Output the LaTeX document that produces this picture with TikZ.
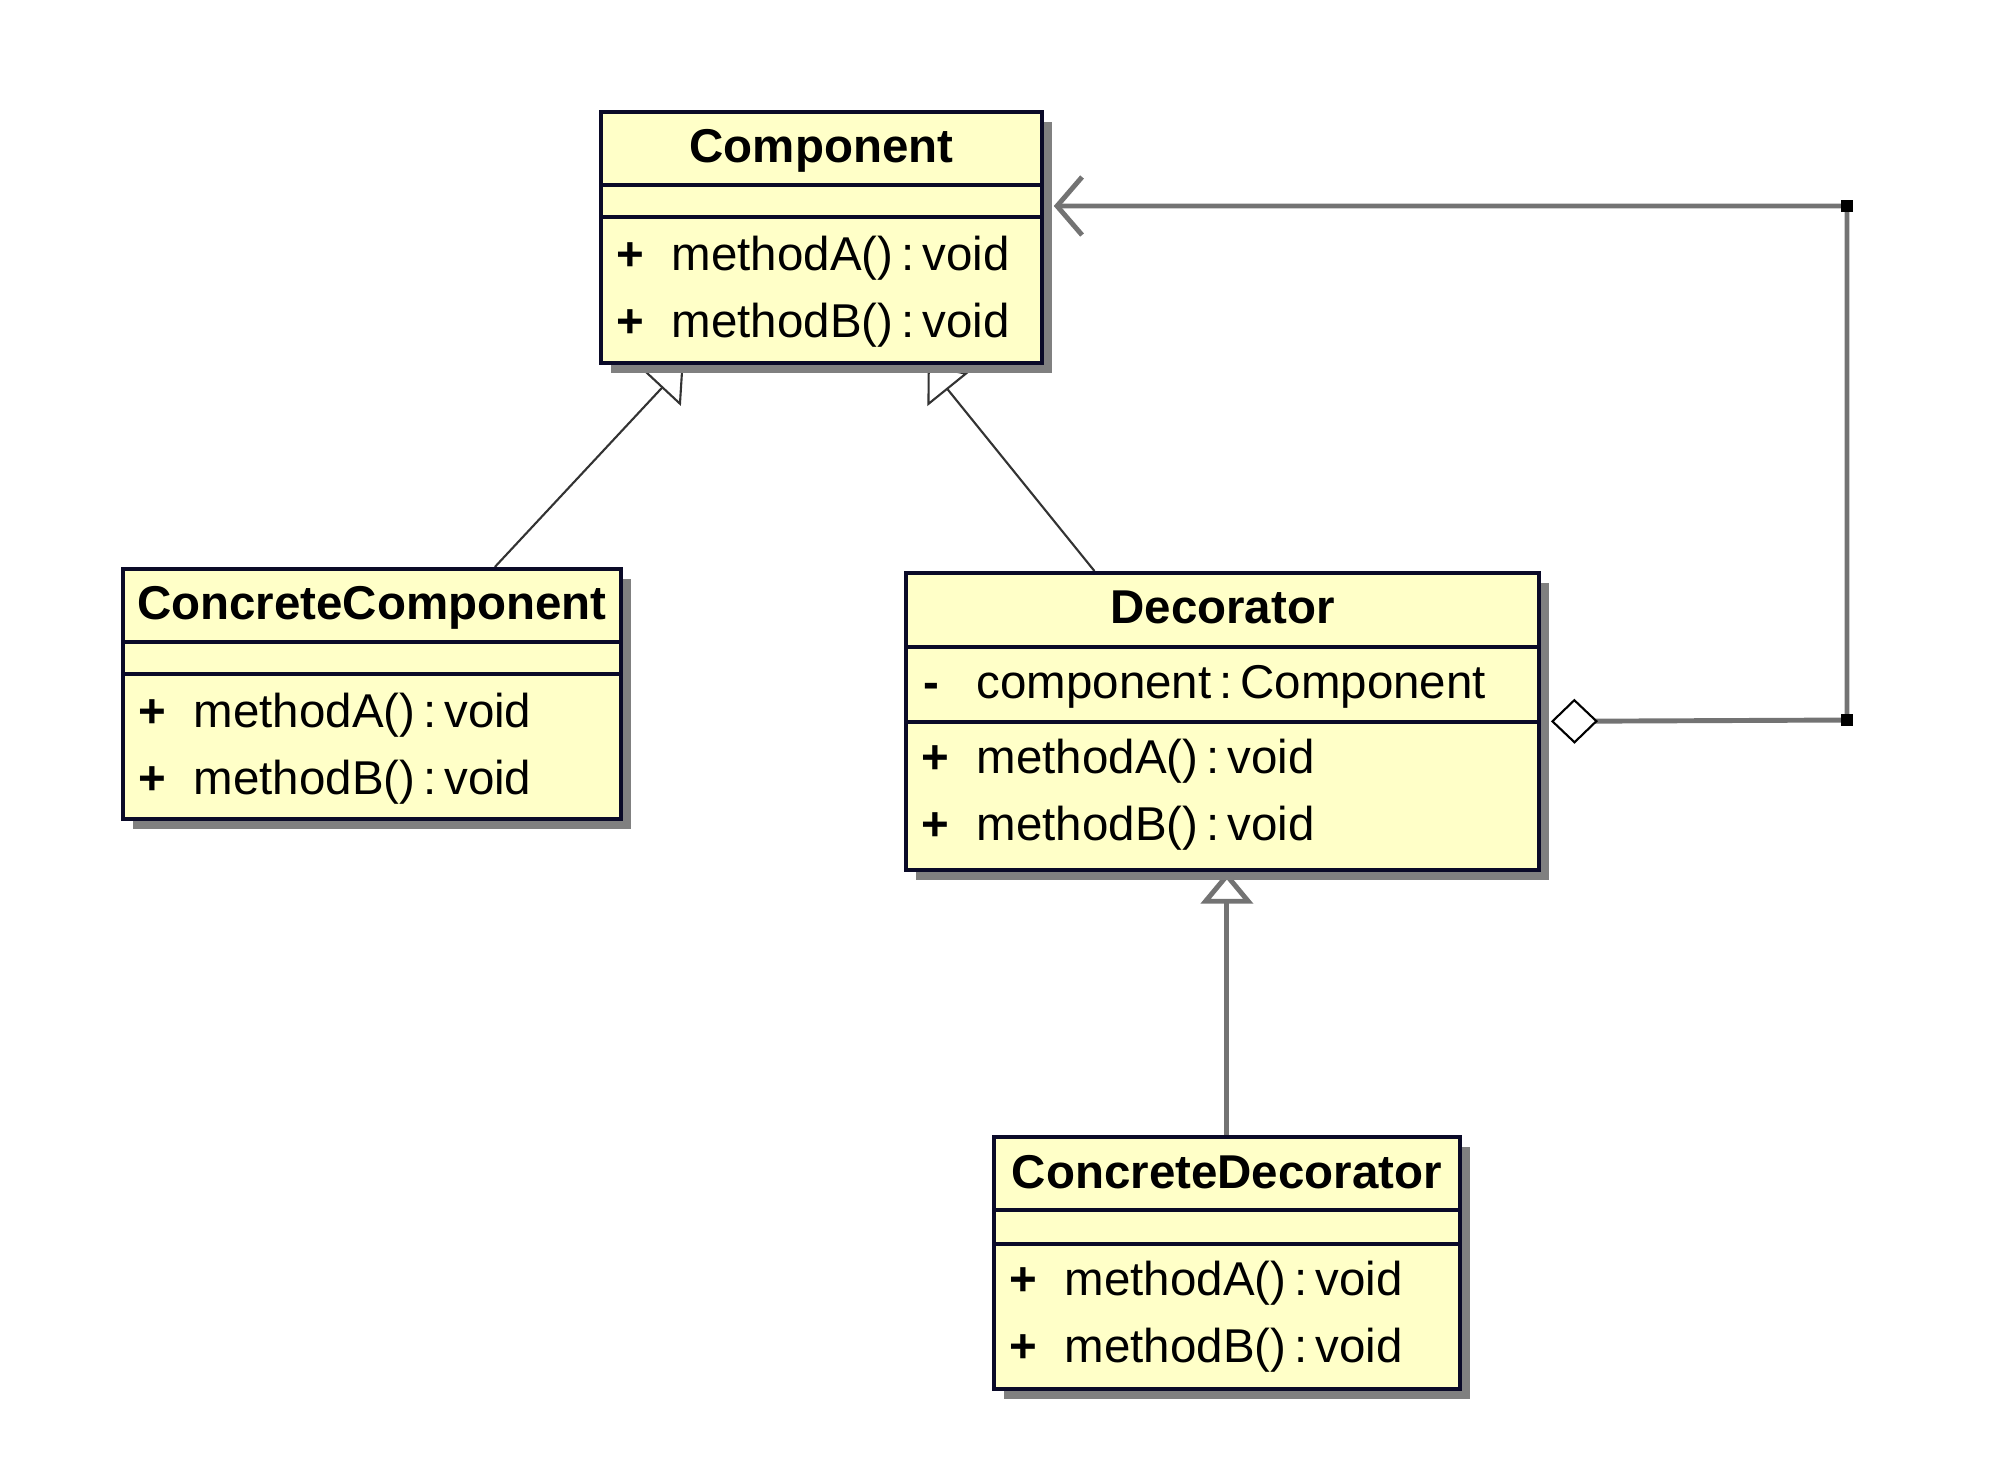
\documentclass[tikz,border=0pt]{standalone}
\usepackage{fontspec}
\setmainfont{Liberation Sans}
\usetikzlibrary{arrows.meta,calc,shadows}
\definecolor{classfill}{RGB}{255,255,200}
\definecolor{classline}{RGB}{10,10,40}
\pgfdeclarelayer{back}
\pgfsetlayers{back,main}
\begin{document}
\begin{tikzpicture}[x=0.01cm,y=-0.01cm,
  every node/.style={font=\fontsize{13.5}{16}\selectfont},
  classbox/.style={draw=classline,line width=1pt,fill=classfill,anchor=north west,inner sep=0pt,
    drop shadow={shadow xshift=0.1cm,shadow yshift=-0.1cm,fill=black!50,opacity=1}},
  classname/.style={anchor=base,font=\fontsize{13.5}{16}\selectfont\bfseries},
  member/.style={anchor=base west,inner sep=0pt},
  divider/.style={classline,line width=1pt},
  inherit/.style={-{Triangle[open,length=0.32cm,width=0.52cm]}},
  thin link/.style={black!80,line width=0.6pt},
  link/.style={black!55,line width=1.4pt}]
  \useasboundingbox (0,0) rectangle (2000,1475);
  % component:
  \node[classbox,minimum width=4.41cm,minimum height=2.51cm] (comp) at (599,110) {};
  \draw[divider] ($(comp.north west)+(0,75)$) -- ($(comp.north east)+(0,75)$);
  \draw[divider] ($(comp.north west)+(0,107)$) -- ($(comp.north east)+(0,107)$);
  \node[classname] (compname) at ($(comp.north)+(0,52)$) {Component};
  \node[member] (compvisa) at ($(comp.north west)+(17,160)$) {\textbf{+}};
  \node[member] (compopa) at ($(comp.north west)+(72,160)$) {methodA()\,:\,void};
  \node[member] (compvisb) at ($(comp.north west)+(17,227)$) {\textbf{+}};
  \node[member] (compopb) at ($(comp.north west)+(72,227)$) {methodB()\,:\,void};
  % concrete component:
  \node[classbox,minimum width=4.98cm,minimum height=2.50cm] (conc) at (121,567) {};
  \draw[divider] ($(conc.north west)+(0,75)$) -- ($(conc.north east)+(0,75)$);
  \draw[divider] ($(conc.north west)+(0,107)$) -- ($(conc.north east)+(0,107)$);
  \node[classname] (concname) at ($(conc.north)+(0,52)$) {ConcreteComponent};
  \node[member] (concvisa) at ($(conc.north west)+(17,160)$) {\textbf{+}};
  \node[member] (concopa) at ($(conc.north west)+(72,160)$) {methodA()\,:\,void};
  \node[member] (concvisb) at ($(conc.north west)+(17,227)$) {\textbf{+}};
  \node[member] (concopb) at ($(conc.north west)+(72,227)$) {methodB()\,:\,void};
  % decorator, with its one attribute:
  \node[classbox,minimum width=6.33cm,minimum height=2.97cm] (deco) at (904,571) {};
  \draw[divider] ($(deco.north west)+(0,76)$) -- ($(deco.north east)+(0,76)$);
  \draw[divider] ($(deco.north west)+(0,151)$) -- ($(deco.north east)+(0,151)$);
  \node[classname] (deconame) at ($(deco.north)+(0,52)$) {Decorator};
  \node[member] (decovisc) at ($(deco.north west)+(19,127)$) {\textbf{-}};
  \node[member] (decoattr) at ($(deco.north west)+(72,127)$) {component\,:\,Component};
  \node[member] (decovisa) at ($(deco.north west)+(17,202)$) {\textbf{+}};
  \node[member] (decoopa) at ($(deco.north west)+(72,202)$) {methodA()\,:\,void};
  \node[member] (decovisb) at ($(deco.north west)+(17,269)$) {\textbf{+}};
  \node[member] (decoopb) at ($(deco.north west)+(72,269)$) {methodB()\,:\,void};
  % concrete decorator:
  \node[classbox,minimum width=4.66cm,minimum height=2.52cm] (cdeco) at (992,1135) {};
  \draw[divider] ($(cdeco.north west)+(0,75)$) -- ($(cdeco.north east)+(0,75)$);
  \draw[divider] ($(cdeco.north west)+(0,109)$) -- ($(cdeco.north east)+(0,109)$);
  \node[classname] (cdeconame) at ($(cdeco.north)+(0,53)$) {ConcreteDecorator};
  \node[member] (cdecovisa) at ($(cdeco.north west)+(17,160)$) {\textbf{+}};
  \node[member] (cdecoopa) at ($(cdeco.north west)+(72,160)$) {methodA()\,:\,void};
  \node[member] (cdecovisb) at ($(cdeco.north west)+(17,227)$) {\textbf{+}};
  \node[member] (cdecoopb) at ($(cdeco.north west)+(72,227)$) {methodB()\,:\,void};
  % ends of the aggregation:
  \coordinate (aggstart) at ([xshift=0.1cm]deco.east);
  \coordinate (compside) at ([xshift=0.1cm]comp.east);
  \coordinate (bendlow) at (1847,720);
  \coordinate (bendup) at (1847,206);
  \begin{pgfonlayer}{back}
    % generalizations:
    \draw[thin link,inherit] ($(conc.north west)!0.745!(conc.north east)$) -- ($(comp.south west)!0.19!(comp.south east)$);
    \draw[thin link,inherit] ($(deco.north west)!0.299!(deco.north east)$) -- ($(comp.south west)!0.739!(comp.south east)$);
    \draw[link,inherit] (cdeco.north) -- (cdeco.north |- deco.south);
    % aggregation back to component:
    \draw[link,{Diamond[fill=white,color=black,line width=0.6pt,length=0.47cm,width=0.45cm]}-{Straight Barb[length=0.25cm,width=0.58cm]}]
      (aggstart) -- (bendlow) -- (bendup) -- (bendup -| compside);
  \end{pgfonlayer}
  % bend points:
  \fill[black] (bendlow) +(-6,-6) rectangle +(6,6);
  \fill[black] (bendup) +(-6,-6) rectangle +(6,6);
\end{tikzpicture}
\end{document}
